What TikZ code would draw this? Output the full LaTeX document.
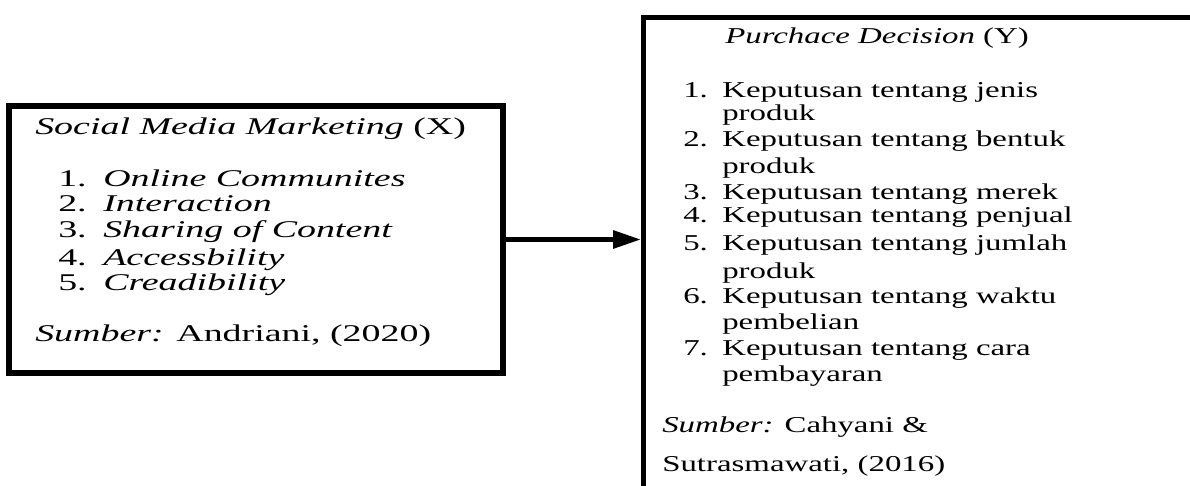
\documentclass[tikz,border=0pt]{standalone}
\usepackage{fontspec}
\setmainfont{Liberation Serif}
\newfontfamily\lfont{Liberation Serif}[FakeStretch=1.58]
\newfontfamily\rfont{Liberation Serif}[FakeStretch=1.45]
\usetikzlibrary{arrows.meta}
\begin{document}
\begin{tikzpicture}[x=0.75pt,y=-0.75pt,
  lbox/.style={draw=black,line width=4.5pt,inner sep=0pt,minimum width=370.5pt,minimum height=200.25pt},
  rbox/.style={draw=black,line width=3.75pt,inner sep=0pt,minimum width=450pt,minimum height=450pt,anchor=north west},
  ltxt/.style={anchor=base west,inner sep=0pt,font=\lfont\fontsize{18}{22}\selectfont},
  rtxt/.style={anchor=base west,inner sep=0pt,font=\rfont\fontsize{17}{21}\selectfont},
  link/.style={line width=3.75pt,-{Triangle[length=21pt,width=13pt]}}]
\useasboundingbox (0,0) rectangle (1190,486);
\clip (0,0) rectangle (1190,486);
\fill[white] (0,0) rectangle (1190,486);
% boxes
\node[lbox] (smm) at (256,239.5) {};
\node[rbox] (pd) at (641,15) {};
% connector
\draw[link] (smm.east) -- (smm.east -| pd.west);
% left texts
\node[ltxt] (lt) at (35,134) {\textit{Social Media Marketing} (X)};
\node[ltxt] (ln1) at (58,186.7) {1.};
\node[ltxt] (li1) at (103,186.7) {\textit{Online Communites}};
\node[ltxt] (ln2) at (58,211.7) {2.};
\node[ltxt] (li2) at (103,211.7) {\textit{Interaction}};
\node[ltxt] (ln3) at (58,237.3) {3.};
\node[ltxt] (li3) at (103,237.3) {\textit{Sharing of Content}};
\node[ltxt] (ln4) at (58,265) {4.};
\node[ltxt] (li4) at (103,265) {\textit{Accessbility}};
\node[ltxt] (ln5) at (58,290.7) {5.};
\node[ltxt] (li5) at (103,290.7) {\textit{Creadibility}};
\node[ltxt] (ls) at (35,341) {\textit{Sumber:} Andriani, (2020)};
% right texts
\node[rtxt] (rt) at (725,43) {\textit{Purchace Decision} (Y)};
\node[rtxt] (rn1) at (683,97) {1.};
\node[rtxt] (ri1) at (722,97) {Keputusan tentang jenis};
\node[rtxt] (ri1b) at (722,120.7) {produk};
\node[rtxt] (rn2) at (683,146.7) {2.};
\node[rtxt] (ri2) at (722,146.7) {Keputusan tentang bentuk};
\node[rtxt] (ri2b) at (722,173) {produk};
\node[rtxt] (rn3) at (683,199) {3.};
\node[rtxt] (ri3) at (722,199) {Keputusan tentang merek};
\node[rtxt] (rn4) at (683,222.7) {4.};
\node[rtxt] (ri4) at (722,222.7) {Keputusan tentang penjual};
\node[rtxt] (rn5) at (683,250.5) {5.};
\node[rtxt] (ri5) at (722,250.5) {Keputusan tentang jumlah};
\node[rtxt] (ri5b) at (722,278.3) {produk};
\node[rtxt] (rn6) at (683,303) {6.};
\node[rtxt] (ri6) at (722,303) {Keputusan tentang waktu};
\node[rtxt] (ri6b) at (722,329) {pembelian};
\node[rtxt] (rn7) at (683,355) {7.};
\node[rtxt] (ri7) at (722,355) {Keputusan tentang cara};
\node[rtxt] (ri7b) at (722,381.7) {pembayaran};
\node[rtxt] (rs1) at (662,432.7) {\textit{Sumber:} Cahyani \&};
\node[rtxt] (rs2) at (662,471) {Sutrasmawati, (2016)};
\end{tikzpicture}
\end{document}
